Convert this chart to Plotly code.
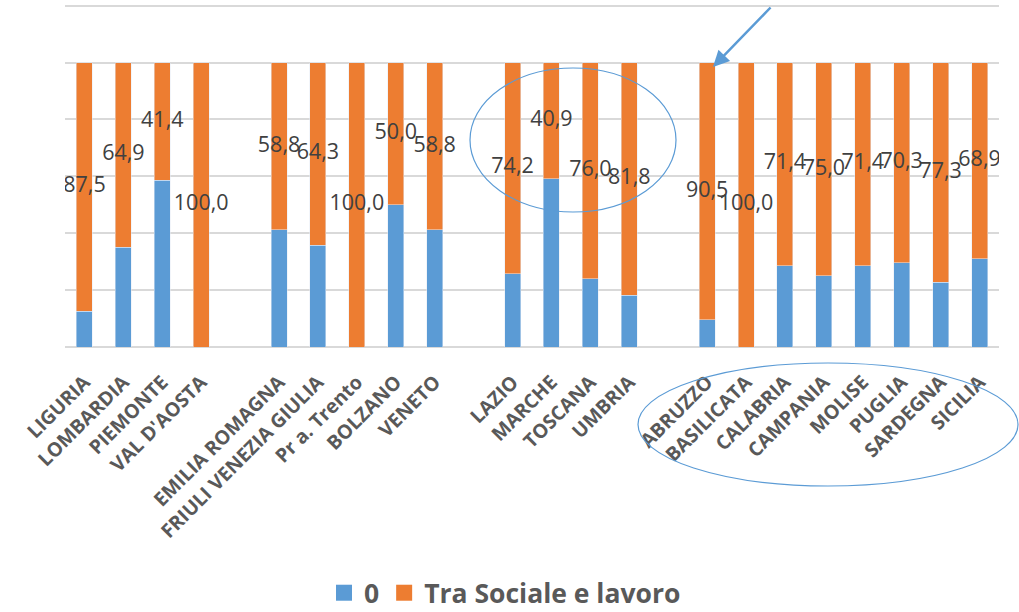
import plotly.graph_objects as go

# Regions grouped by area; empty strings of spaces separate the groups
regions = [
    "LIGURIA", "LOMBARDIA", "PIEMONTE", "VAL D'AOSTA", " ",
    "EMILIA ROMAGNA", "FRIULI VENEZIA GIULIA", "Pr a. Trento", "BOLZANO", "VENETO", "  ",
    "LAZIO", "MARCHE", "TOSCANA", "UMBRIA", "   ",
    "ABRUZZO", "BASILICATA", "CALABRIA", "CAMPANIA", "MOLISE", "PUGLIA", "SARDEGNA", "SICILIA",
]

# Share (%) in category "0"
zero_share = [
    12.5, 35.1, 58.6, 0.0, None,
    41.2, 35.7, 0.0, 50.0, 41.2, None,
    25.8, 59.1, 24.0, 18.2, None,
    9.5, 0.0, 28.6, 25.0, 28.6, 29.7, 22.7, 31.1,
]

# Share (%) in category "Tra Sociale e lavoro"
social_work_share = [
    87.5, 64.9, 41.4, 100.0, None,
    58.8, 64.3, 100.0, 50.0, 58.8, None,
    74.2, 40.9, 76.0, 81.8, None,
    90.5, 100.0, 71.4, 75.0, 71.4, 70.3, 77.3, 68.9,
]

BLUE = "#5B9BD5"
ORANGE = "#ED7D31"
FONT = "Open Sans"

# label position: middle of the orange segment
label_y, label_text = [], []
for z, s in zip(zero_share, social_work_share):
    if s is None:
        label_y.append(None)
        label_text.append("")
    else:
        label_y.append(z + s / 2)
        label_text.append(f"{s:.1f}".replace(".", ","))

fig = go.Figure()
fig.add_trace(go.Bar(x=regions, y=zero_share, name="0", marker_color=BLUE,
                     showlegend=False))
fig.add_trace(go.Bar(x=regions, y=social_work_share, name="Tra Sociale e lavoro",
                     marker_color=ORANGE, showlegend=False))
fig.add_trace(go.Scatter(x=regions, y=label_y, text=label_text, mode="text",
                         textposition="middle center", showlegend=False,
                         textfont=dict(family=FONT, size=21.5, color="#404040")))

# legend entries with larger square swatches
for name, col in (("0", BLUE), ("Tra Sociale e lavoro", ORANGE)):
    fig.add_trace(go.Scatter(x=[None], y=[None], mode="markers", name=name,
                             marker=dict(symbol="square", size=18, color=col)))

L, R, T, B = 65, 20, 4, 265
W, H = 1019, 612
pw, ph = W - L - R, H - T - B


def px(x):
    return (x - L) / pw


def py(y):
    return (H - B - y) / ph


fig.update_layout(
    width=W, height=H,
    margin=dict(l=L, r=R, t=T, b=B, autoexpand=False),
    barmode="stack",
    bargap=0.59,
    plot_bgcolor="white",
    paper_bgcolor="white",
    font=dict(family=FONT, color="#595959"),
    legend=dict(orientation="h", x=px(324), xanchor="left", y=py(593), yanchor="middle",
                traceorder="normal",
                font=dict(family=FONT, size=26.5, color="#595959", weight="bold"),
                itemsizing="trace"),
    xaxis=dict(type="category", range=[-0.5, len(regions) - 0.5], tickangle=-45,
               showgrid=False, showline=False, ticks="", automargin=False,
               ticklabelstandoff=19, ticklabelshift=0,
               tickfont=dict(family=FONT, size=19.5, color="#595959", weight="bold")),
    yaxis=dict(range=[0, 120.6], tickvals=[0, 20, 40, 60, 80, 100, 120],
               showticklabels=False, gridcolor="#D9D9D9", automargin=False,
               gridwidth=1.5, zeroline=True, zerolinecolor="#D9D9D9", zerolinewidth=1.5,
               fixedrange=True),
    shapes=[
        dict(type="circle", xref="paper", yref="paper",
             x0=px(470), x1=px(676), y0=py(212), y1=py(68),
             line=dict(color=BLUE, width=1.2)),
        dict(type="circle", xref="paper", yref="paper",
             x0=px(638), x1=px(1018), y0=py(486), y1=py(363),
             line=dict(color=BLUE, width=1.2)),
    ],
    annotations=[
        dict(xref="paper", yref="paper", x=px(713), y=py(67), ax=59, ay=-61,
             showarrow=True, arrowhead=2, arrowsize=1.3, arrowwidth=2.5,
             arrowcolor=BLUE, text=""),
    ],
)

fig.write_html("out.html")
